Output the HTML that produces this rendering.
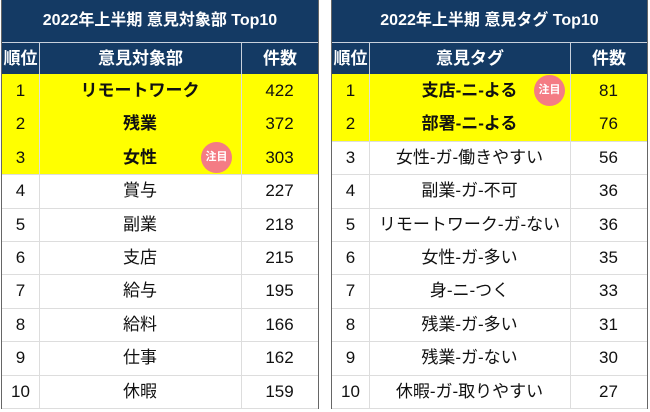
<!DOCTYPE html>
<html><head><meta charset="utf-8">
<style>
body{margin:0;width:650px;height:412px;background:#fff;font-family:"Liberation Sans","Noto Sans CJK JP",sans-serif;position:relative;overflow:hidden}
.tbl{position:absolute;top:0;border:1px solid #666;border-top:none;box-sizing:border-box;height:409px}
.title{position:absolute;left:0;right:0;top:0;height:42px;background:#143a64;color:#fff;font-weight:bold;font-size:16px;text-align:center;line-height:42px}
.hdr{position:absolute;top:42px;height:32px;background:#143a64;color:#fff;font-weight:bold;font-size:17px;text-align:center;line-height:32px;border-top:1px solid #c8d0dc;box-sizing:border-box}
.cell{position:absolute;height:33px;font-size:17px;text-align:center;line-height:33px;color:#111;border-bottom:1px solid #ddd;box-sizing:border-box}
.vl{position:absolute;width:1px;background:#ddd}
.hl{background:#ffff00}
.b{font-weight:bold}
.badge{position:absolute;width:31px;height:31px;border-radius:50%;background:#f47c84;color:#fff;font-size:11px;font-weight:bold;text-align:center;line-height:31px}
</style></head><body>
<div id="t1" class="tbl" style="left:1px;width:318px">
<div class="title">2022年上半期 意見対象部 Top10</div>
</div>
<div id="t2" class="tbl" style="left:331px;width:317px">
<div class="title">2022年上半期 意見タグ Top10</div>
</div>
<script>
const leftLabels=["リモートワーク","残業","女性","賞与","副業","支店","給与","給料","仕事","休暇"];
const leftCounts=[422,372,303,227,218,215,195,166,162,159];
const rightLabels=["支店-ニ-よる","部署-ニ-よる","女性-ガ-働きやすい","副業-ガ-不可","リモートワーク-ガ-ない","女性-ガ-多い","身-ニ-つく","残業-ガ-多い","残業-ガ-ない","休暇-ガ-取りやすい"];
const rightCounts=[81,76,56,36,36,35,33,31,30,27];
function build(id,head,labels,counts,hlN,badgeRow,badgeX,c1,c2,w){
  const t=document.getElementById(id);
  const cols=[[0,c1],[c1,c2],[c2,w]];
  const heads=["順位",head,"件数"];
  cols.forEach((c,i)=>{
    const h=document.createElement('div');h.className='hdr';
    h.style.left=c[0]+'px';h.style.width=(c[1]-c[0])+'px';
    if(i>0){h.style.borderLeft='1px solid #c8d0dc';}
    h.textContent=heads[i];
    
    
    t.appendChild(h);
  });
  const rh=33.4;
  labels.forEach((lab,r)=>{
    const vals=[r+1,lab,counts[r]];
    cols.forEach((c,i)=>{
      const d=document.createElement('div');
      d.className='cell'+(r<hlN?' hl':'')+(i==1&&r<hlN?' b':'');
      d.style.left=c[0]+'px';d.style.width=(c[1]-c[0])+'px';
      d.style.top=(74+r*rh)+'px';d.style.height=(rh+1)+'px';d.style.lineHeight=rh+'px';
      d.textContent=vals[i];
      
      
      t.appendChild(d);
    });
  });
  [c1,c2].forEach(x=>{
    const v=document.createElement('div');v.className='vl';
    v.style.left=x+'px';v.style.top='74px';v.style.height='334px';
    
    
    t.appendChild(v);
  });
  const b=document.createElement('div');b.className='badge';b.textContent='注目';
  b.style.left=badgeX+'px';b.style.top=(74+badgeRow*rh+1)+'px';
  
  
  t.appendChild(b);
}
build('t1','意見対象部',leftLabels,leftCounts,3,2,199,37,239,316);
build('t2','意見タグ',rightLabels,rightCounts,2,0,202,37,238,315);
</script>
</body></html>
